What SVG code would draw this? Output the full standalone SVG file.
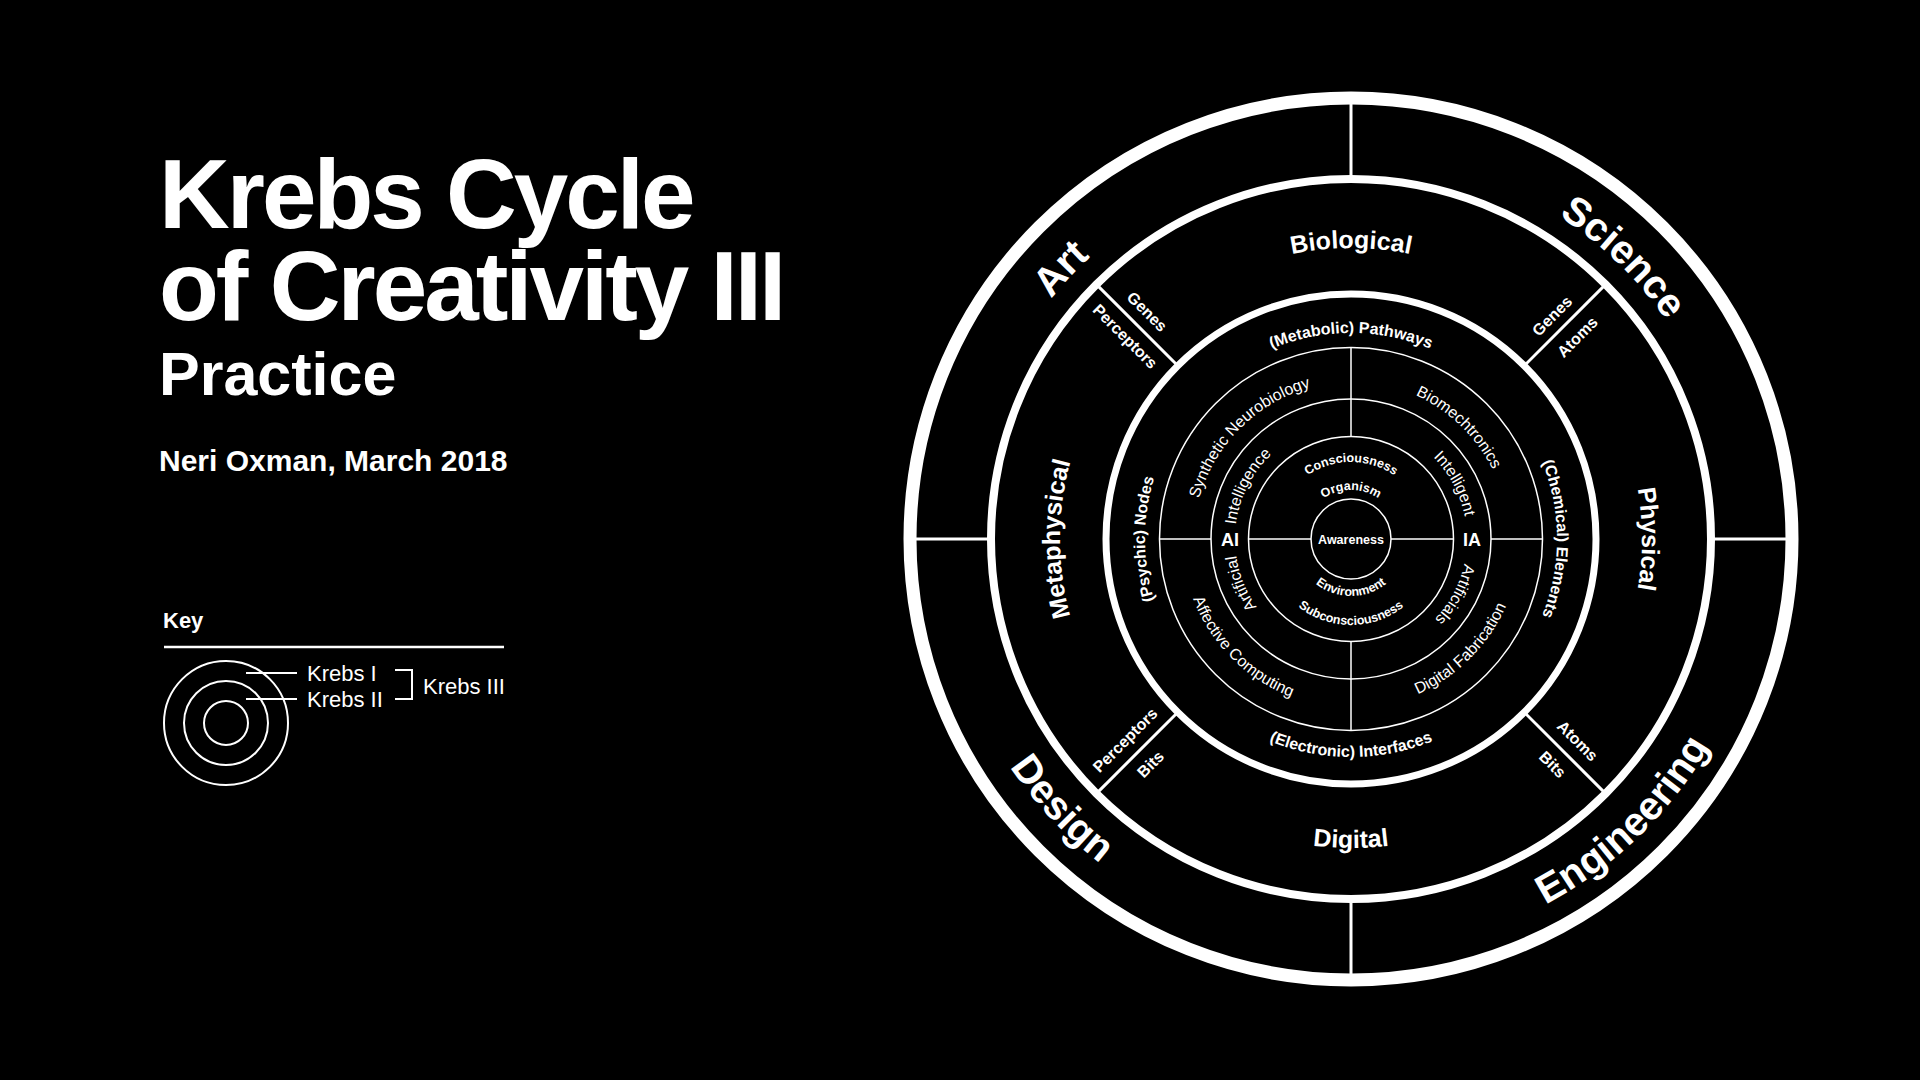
<svg xmlns="http://www.w3.org/2000/svg" width="1920" height="1080" viewBox="0 0 1920 1080">
<style>
.b{font-family:"Liberation Sans",Arial,Helvetica,sans-serif;font-weight:bold;fill:#fff}
.r{font-family:"Liberation Sans",Arial,Helvetica,sans-serif;font-weight:normal;fill:#fff}
.ring{fill:none;stroke:#fff}
.div{stroke:#fff;fill:none}
.outer{font-size:40px}
.mid{font-size:25px}
.k1{font-size:16px}
.thin{font-size:16px}
.core{font-size:12.5px}
.tag{font-size:16px}
</style>
<defs>
<path id="pArt" d="M1089.1,819.9 A384,384 0 0 1 1612.9,258.1"/>
<path id="pSci" d="M1074.8,272.2 A384,384 0 0 1 1627.2,805.8"/>
<path id="pDes" d="M1068.7,236.2 A414,414 0 0 0 1633.3,841.8"/>
<path id="pEng" d="M1053.2,826.6 A414,414 0 0 0 1648.8,251.4"/>
<path id="pBio" d="M1060,539 A291,291 0 0 1 1642,539"/>
<path id="pPhy" d="M1351,248 A291,291 0 0 1 1351,830"/>
<path id="pDig" d="M1042,539 A309,309 0 0 0 1660,539"/>
<path id="pMet" d="M1351,830 A291,291 0 0 1 1351,248"/>
<path id="pPath" d="M1145,539 A206,206 0 0 1 1557,539"/>
<path id="pChem" d="M1351,333 A206,206 0 0 1 1351,745"/>
<path id="pElec" d="M1133,539 A218,218 0 0 0 1569,539"/>
<path id="pPsy" d="M1351,745 A206,206 0 0 1 1351,333"/>
<path id="pSyn" d="M1237.2,652.8 A161,161 0 0 1 1464.8,425.2"/>
<path id="pBiom" d="M1235.2,427.2 A161,161 0 0 1 1466.8,650.8"/>
<path id="pDfab" d="M1229.4,660.6 A172,172 0 0 0 1472.6,417.4"/>
<path id="pAff" d="M1229.4,417.4 A172,172 0 0 0 1472.6,660.6"/>
<path id="pIntce" d="M1298.3,642.4 A116,116 0 0 1 1403.7,435.6"/>
<path id="pIntnt" d="M1296.5,436.6 A116,116 0 0 1 1405.5,641.4"/>
<path id="pArtf" d="M1394.5,646.6 A116,116 0 0 1 1307.5,431.4"/>
<path id="pArtfs" d="M1405.5,436.6 A116,116 0 0 1 1296.5,641.4"/>
<path id="pCon" d="M1274,539 A77,77 0 0 1 1428,539"/>
<path id="pOrg" d="M1302,539 A49,49 0 0 1 1400,539"/>
<path id="pEnv" d="M1294,539 A57,57 0 0 0 1408,539"/>
<path id="pSub" d="M1265,539 A86,86 0 0 0 1437,539"/>
</defs>
<rect x="0" y="0" width="1920" height="1080" fill="#000"/>

<g id="title">
<text class="b" x="159" y="228" font-size="98" letter-spacing="-3">Krebs Cycle</text>
<text class="b" x="159" y="320" font-size="98" letter-spacing="-3">of Creativity III</text>
<text class="b" x="159" y="395" font-size="61">Practice</text>
<text class="b" x="159" y="471" font-size="30">Neri Oxman, March 2018</text>
</g>

<g id="key">
<text class="b" x="163" y="628" font-size="22">Key</text>
<line x1="164" y1="647" x2="504" y2="647" stroke="#fff" stroke-width="2.5"/>
<circle class="ring" cx="226" cy="723" r="62" stroke-width="2"/>
<circle class="ring" cx="226" cy="723" r="42" stroke-width="2"/>
<circle class="ring" cx="226" cy="723" r="22" stroke-width="2"/>
<line x1="246" y1="673" x2="297" y2="673" stroke="#fff" stroke-width="2"/>
<line x1="246" y1="699" x2="297" y2="699" stroke="#fff" stroke-width="2"/>
<text class="r" x="307" y="681" font-size="22">Krebs I</text>
<text class="r" x="307" y="707" font-size="22">Krebs II</text>
<path d="M395,670 H412 V699 H395" stroke="#fff" stroke-width="2" fill="none"/>
<text class="r" x="423" y="694" font-size="22">Krebs III</text>
</g>

<g id="rings">
<circle id="ring-outer" class="ring" cx="1351" cy="539" r="441" stroke-width="13"/>
<circle id="ring-krebs2" class="ring" cx="1351" cy="539" r="360" stroke-width="8"/>
<circle id="ring-krebs1" class="ring" cx="1351" cy="539" r="245" stroke-width="7"/>
<circle class="ring" cx="1351" cy="539" r="191.5" stroke-width="1.5"/>
<circle class="ring" cx="1351" cy="539" r="140" stroke-width="1.5"/>
<circle class="ring" cx="1351" cy="539" r="102.5" stroke-width="1.5"/>
<circle class="ring" cx="1351" cy="539" r="40" stroke-width="1.5"/>
</g>

<g id="connectors">
<g class="div" stroke-width="3">
<line x1="1351" y1="98" x2="1351" y2="179"/>
<line x1="1351" y1="899" x2="1351" y2="980"/>
<line x1="910" y1="539" x2="991" y2="539"/>
<line x1="1711" y1="539" x2="1792" y2="539"/>
<line x1="1177.8" y1="365.8" x2="1096.4" y2="284.4"/>
<line x1="1524.2" y1="365.8" x2="1605.6" y2="284.4"/>
<line x1="1177.8" y1="712.2" x2="1096.4" y2="793.6"/>
<line x1="1524.2" y1="712.2" x2="1605.6" y2="793.6"/>
</g>
<g class="div" stroke-width="1.5">
<line x1="1351" y1="347.5" x2="1351" y2="436.5"/>
<line x1="1351" y1="641.5" x2="1351" y2="730.5"/>
<line x1="1159.5" y1="539" x2="1211" y2="539"/>
<line x1="1248.5" y1="539" x2="1311" y2="539"/>
<line x1="1391" y1="539" x2="1453.5" y2="539"/>
<line x1="1491" y1="539" x2="1542.5" y2="539"/>
</g>
</g>

<g id="practice-labels">
<text id="art" class="b outer"><textPath href="#pArt" startOffset="50%" text-anchor="middle">Art</textPath></text>
<text id="science" class="b outer"><textPath href="#pSci" startOffset="50%" text-anchor="middle">Science</textPath></text>
<text id="design" class="b outer"><textPath href="#pDes" startOffset="50%" text-anchor="middle">Design</textPath></text>
<text id="engineering" class="b outer"><textPath href="#pEng" startOffset="50%" text-anchor="middle">Engineering</textPath></text>
</g>

<g id="krebs2-labels">
<text id="biological" class="b mid"><textPath href="#pBio" startOffset="50%" text-anchor="middle">Biological</textPath></text>
<text id="physical" class="b mid"><textPath href="#pPhy" startOffset="50%" text-anchor="middle">Physical</textPath></text>
<text id="digital" class="b mid"><textPath href="#pDig" startOffset="50%" text-anchor="middle">Digital</textPath></text>
<text id="metaphysical" class="b mid"><textPath href="#pMet" startOffset="50%" text-anchor="middle">Metaphysical</textPath></text>
<g class="b tag">
<text transform="translate(1146.7,312) rotate(45)" y="5" text-anchor="middle">Genes</text>
<text transform="translate(1124.8,336.8) rotate(45)" y="5" text-anchor="middle">Perceptors</text>
<text transform="translate(1552.5,316.3) rotate(-45)" y="5" text-anchor="middle">Genes</text>
<text transform="translate(1577.7,337.3) rotate(-45)" y="5" text-anchor="middle">Atoms</text>
<text transform="translate(1125.5,740.5) rotate(-45)" y="5" text-anchor="middle">Perceptors</text>
<text transform="translate(1150.9,764.5) rotate(-45)" y="5" text-anchor="middle">Bits</text>
<text transform="translate(1577.2,741.2) rotate(45)" y="5" text-anchor="middle">Atoms</text>
<text transform="translate(1552.2,764.8) rotate(45)" y="5" text-anchor="middle">Bits</text>
</g>
</g>

<g id="krebs1-labels">
<text class="b k1"><textPath href="#pPath" startOffset="50%" text-anchor="middle">(Metabolic) Pathways</textPath></text>
<text class="b k1"><textPath href="#pChem" startOffset="50%" text-anchor="middle">(Chemical) Elements</textPath></text>
<text class="b k1"><textPath href="#pElec" startOffset="50%" text-anchor="middle">(Electronic) Interfaces</textPath></text>
<text class="b k1"><textPath href="#pPsy" startOffset="50%" text-anchor="middle">(Psychic) Nodes</textPath></text>
<text class="r thin"><textPath href="#pSyn" startOffset="50%" text-anchor="middle">Synthetic Neurobiology</textPath></text>
<text class="r thin"><textPath href="#pBiom" startOffset="50%" text-anchor="middle">Biomechtronics</textPath></text>
<text class="r thin"><textPath href="#pDfab" startOffset="50%" text-anchor="middle">Digital Fabrication</textPath></text>
<text class="r thin"><textPath href="#pAff" startOffset="50%" text-anchor="middle">Affective Computing</textPath></text>
<text class="r thin"><textPath href="#pIntce" startOffset="50%" text-anchor="middle">Intelligence</textPath></text>
<text class="r thin"><textPath href="#pIntnt" startOffset="50%" text-anchor="middle">Intelligent</textPath></text>
<text class="r thin"><textPath href="#pArtf" startOffset="50%" text-anchor="middle">Artificial</textPath></text>
<text class="r thin"><textPath href="#pArtfs" startOffset="50%" text-anchor="middle">Artificials</textPath></text>
<text class="b" x="1230" y="545.5" font-size="18" text-anchor="middle">AI</text>
<text class="b" x="1472" y="545.5" font-size="18" text-anchor="middle">IA</text>
</g>

<g id="core-labels">
<text class="b core"><textPath href="#pCon" startOffset="50%" text-anchor="middle">Consciousness</textPath></text>
<text class="b core"><textPath href="#pOrg" startOffset="50%" text-anchor="middle">Organism</textPath></text>
<text class="b core"><textPath href="#pEnv" startOffset="50%" text-anchor="middle">Environment</textPath></text>
<text class="b core"><textPath href="#pSub" startOffset="50%" text-anchor="middle">Subconsciousness</textPath></text>
<text class="b" x="1351" y="543.5" font-size="12.5" text-anchor="middle">Awareness</text>
</g>
</svg>
